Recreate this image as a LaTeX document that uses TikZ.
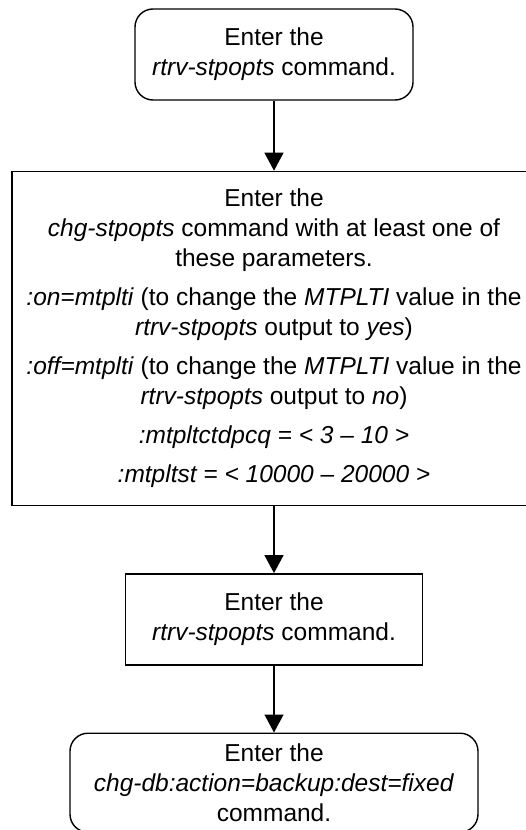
\documentclass[tikz,border=0pt]{standalone}
\usepackage{fontspec}
\setmainfont{Liberation Sans}
\usetikzlibrary{arrows.meta,positioning}

\begin{document}
\begin{tikzpicture}[
  >={Triangle[length=18pt,width=19pt]},
  every node/.style={font=\fontsize{24.5}{30}\selectfont},
  box/.style={draw, line width=1.4pt, align=center, inner sep=0pt},
  term/.style={box, rounded corners=18pt},
  flow/.style={->, line width=1.3pt},
]
\useasboundingbox (0,0) rectangle (526pt,-830pt);

\node[term, minimum width=278pt, minimum height=91pt] (rtrv1) at (274pt,-54.5pt)
  {Enter the\\\textit{rtrv-stpopts} command.};
\node[box, below=70pt of rtrv1, minimum width=524pt, minimum height=334pt] (chgopts)
  {Enter the\\
   \textit{chg-stpopts} command with at least one of\\
   these parameters.\\[9pt]
   \textit{:on=mtplti} (to change the \textit{MTPLTI} value in the\\
   \textit{rtrv-stpopts} output to \textit{yes})\\[9pt]
   \textit{:off=mtplti} (to change the \textit{MTPLTI} value in the\\
   \textit{rtrv-stpopts} output to \textit{no})\\[9pt]
   \textit{:mtpltctdpcq = < 3 -- 10 >}\\[9pt]
   \textit{:mtpltst = < 10000 -- 20000 >}};
\node[box, below=67pt of chgopts, minimum width=297pt, minimum height=91pt] (rtrv2)
  {Enter the\\\textit{rtrv-stpopts} command.};
\node[term, below=67pt of rtrv2, minimum width=408pt, minimum height=99pt] (chgdb)
  {Enter the\\\textit{chg-db:action=backup:dest=fixed}\\command.};

\draw[flow] (rtrv1) -- (chgopts);
\draw[flow] (chgopts) -- (rtrv2);
\draw[flow] (rtrv2) -- (chgdb);
\end{tikzpicture}
\end{document}
